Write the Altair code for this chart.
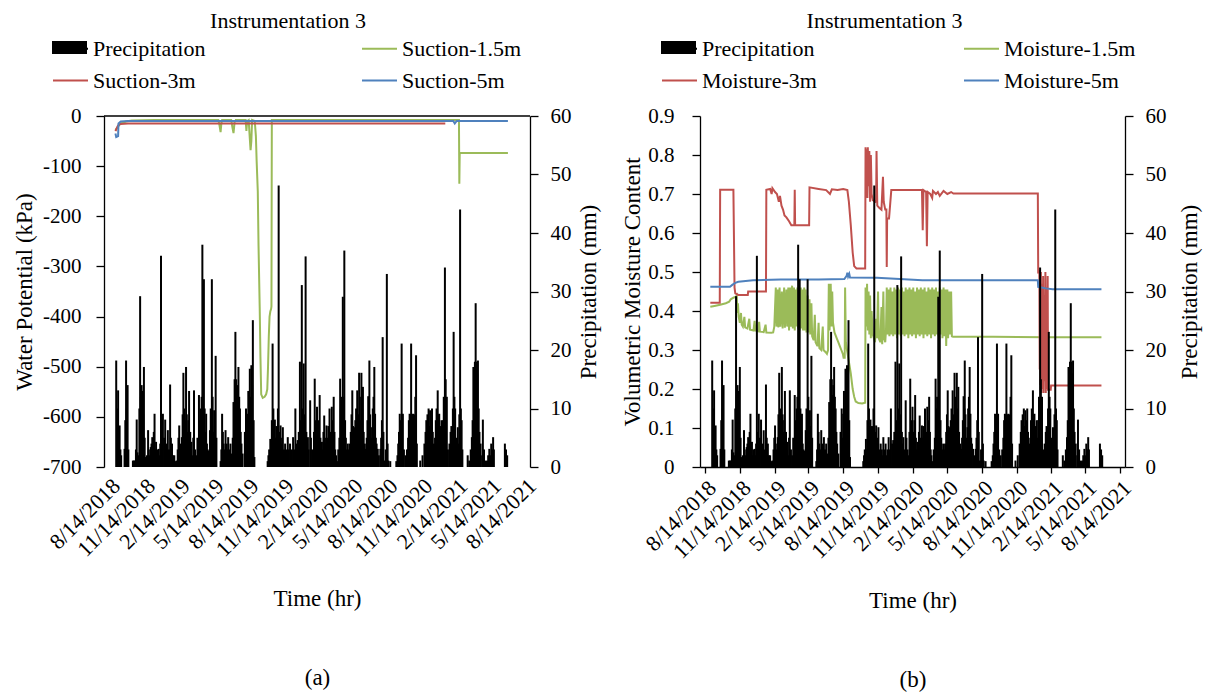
import altair as alt
import pandas as pd

BASE = "2018-08-14"
FONT = "Liberation Serif"
GREEN = "#9BBB59"
RED = "#C0504D"
BLUE = "#4F81BD"

# ---- precipitation (day offset from 8/14/2018, mm) ----
PRECIP_Y1 = [[19,18.2],[22,10],[24,13.1],[26,4],[28,7.1],[30,3],[32,2],[41,3.1],[43,8],[45,18.2],[47,10],[49,14],[51,3],
    [63,1.1],[66,1.1],[69,1.1],[71,3],[73,8.1],[75,2.5],[78,2],[80,10],[82,29.2],[84,12],[86,14],[88,13],[90,9],[92,17.1],
    [94,5],[96,1.7],[100,2],[103,6.3],[105,3],[107,2],[110,3.4],[112,4],[114,5.1],[116,3],[118,6],[120,9.1],[122,3],
    [124,4.3],[126,2],[128,3],[131,3.1],[133,2],[135,4],[137,36.1],[139,6],[142,9.1],[145,5],[148,8.1],[151,4],[155,6.3],
    [158,3],[161,14.1],[163,5],[166,4],[169,2],[172,2],[175,1],[178,1.1],[181,3],[183,5],[185,7.1],[187,4],[190,3],
    [192,5.1],[194,9],[196,16.1],[198,10],[200,8],[203,17.1],[205,9],[207,6],[209,8],[211,13],[214,6],[217,4.3],[220,2],
    [222,5],[224,13.1],[227,3],[230,2],[233,5],[237,12.3],[240,8],[242,10],[244,12],[246,38],[248,20],[250,32.1],[252,10],
    [254,6],[256,9.1],[258,4],[260,3],[263,2.8],[266,6.3],[268,10],[271,32.1],[273,12],[275,6],[277,9.7],[279,7],[281,19],
    [283,5],[294,1],[296,3],[298,9.1],[300,6],[302,4],[304,3],[307,6.3],[310,4],[312,3],[314,5.1],[317,3],[320,4],[322,2],
    [324,2.3],[326,5],[328,11.1],[330,8],[331,15],[333,23.1],[335,15],[337,12.3],[339,14],[341,17.1],[343,12],[345,10],
    [347,6],[349,4],[352,2.3]]
PRECIP_Y2 = [[358,6],[361,10],[363,5],[365,9.1],[367,13],[369,10],[371,16.8],[373,12],[375,17.4],[377,14],[379,25.1],
    [381,8],[383,1.7],[418,1],[420,2],[422,3],[425,4.8],[427,3],[429,8],[431,21.1],[433,10],[435,7],[437,8.1],[439,5],
    [441,7],[443,6.3],[445,10],[447,48.1],[449,6],[452,7.1],[454,4],[456,5],[458,6.8],[461,3],[464,4],[467,3],[469,2],
    [471,5.1],[474,3],[477,4],[480,2],[482,3],[485,5.1],[488,3],[491,10],[494,4],[497,4.6],[500,6],[503,18],[505,8],
    [508,31.1],[510,10],[513,17.7],[515,9],[518,36],[520,6],[522,4],[524,5.1],[526,3],[530,11.4],[532,5],[535,3],[538,2],
    [540,6],[542,15.1],[544,8],[546,5],[548,10.3],[551,6],[553,8],[555,12.3],[557,5],[559,3],[561,4.3],[563,3],[565,6],
    [567,8.8],[569,5],[571,4],[573,7.1],[576,5],[578,7],[581,10],[584,6],[587,10.3],[589,8],[592,12],[594,6],[596,3],
    [598,2],[601,1],[604,3],[607,5],[609,15.1],[611,10],[613,12],[616,29.1],[618,12],[620,37],[622,8],[624,5],[627,3],
    [629,4],[632,3],[634,4],[637,6],[639,9],[641,13.1],[643,7],[645,5],[647,6.8],[649,8],[651,10],[654,13.1],[656,9],
    [659,16.1],[661,12],[663,8],[665,16.1],[667,10],[669,13.7],[671,6],[674,4],[676,3.1],[679,5],[681,8],[683,12.1],
    [685,10],[686,18.2],[688,9],[690,5],[693,6.8],[695,10],[697,12],[699,17.1],[701,9.1],[703,5],[705,4],[708,3.1],
    [711,2],[715,3.1],[717,5],[719,8],[721,22.2],[723,6],[726,1.1],[729,3],[732,33],[734,4],[736,1.1]]
PRECIP_Y3 = [[741,1],[757,1],[760,2],[762,4],[764,6],[766,9.1],[769,8],[771,21.1],[773,9],[774,9.1],[777,3],[781,2],
    [785,3],[788,5],[790,8],[792,9.1],[794,9],[796,21.1],[798,9],[801,9.1],[803,8],[805,9],[807,12],[809,19.1],[811,4],
    [820,1.1],[826,2],[831,4],[834,6],[836,8],[839,9],[842,10],[844,7],[846,9.7],[848,8],[851,10],[853,6],[856,4],[859,5],
    [861,8],[863,10],[866,13.1],[868,9],[870,9.1],[872,7],[876,8],[878,5],[880,8],[882,12],[885,34.1],[887,15],[890,12],
    [893,3],[897,4],[900,6],[902,7],[904,6.8],[906,10],[908,23.1],[910,12],[912,10],[915,5],[919,6.8],[921,4],[923,9],
    [925,44],[927,10],[929,8],[931,3],[945,2],[949,1.1],[953,3],[956,5.1],[958,8],[960,17.1],[962,17],[964,18],[966,28],
    [968,18],[970,16],[972,18.2],[974,10],[976,6],[979,4],[983,2],[985,8.1],[988,3],[991,1.1],[994,1],[996,1.1],[999,2],
    [1002,3.1],[1004,2],[1007,4],[1009,3],[1012,5.1],[1014,3],[1043,4],[1046,3],[1049,2]]

# ---- panel (a): suction, kPa ----
SUCTION_15 = [[17,-28],[20,-25],[24,-21],[28,-17],[34,-14],[45,-11],[60,-9],[120,-8],[200,-8],[288,-8],[291,-18],
    [294,-32],[296,-15],[298,-8],[322,-8],[325,-22],[328,-34],[331,-12],[334,-8],[360,-8],[362,-30],[364,-10],[368,-8],
    [371,-45],[373,-68],[375,-50],[377,-8],[384,-10],[387,-40],[389,-90],[392,-150],[394,-260],[397,-380],[399,-480],
    [401,-555],[405,-562],[410,-560],[414,-555],[417,-545],[419,-500],[421,-440],[423,-400],[425,-390],[427,-385],
    [428,-380],[429,-8],[600,-8],[800,-8],[922,-8],[923,-135],[924,-74],[1051,-74]]
SUCTION_3 = [[17,-30],[20,-25],[24,-19],[30,-16],[50,-15],[300,-15],[600,-15],[886,-15]]
SUCTION_5 = [[17,-35],[19,-42],[24,-40],[25,-15],[31,-11],[50,-10],[907,-10],[911,-15],[916,-10],[1051,-10]]

# ---- panel (b): volumetric moisture content ----
MOISTURE_15 = [[14,0.411],[25,0.413],[40,0.416],[55,0.42],[64,0.424],[68,0.43],[75,0.434],[82,0.437],[84,0.44],
    [85,0.395],[87,0.42],[89,0.385],[92,0.37],[95,0.395],[97,0.365],[100,0.36],[104,0.385],[106,0.358],[112,0.355],
    [117,0.38],[119,0.352],[128,0.35],[131,0.375],[133,0.35],[140,0.348],[143,0.372],[145,0.347],[155,0.346],[160,0.365],
    [162,0.345],[175,0.344],[180,0.345],[183,0.36],[187,0.46],[189,0.36],[192,0.455],[194,0.358],[197,0.46],[199,0.36],
    [203,0.45],[205,0.355],[209,0.46],[211,0.357],[215,0.455],[217,0.36],[220,0.46],[222,0.35],[225,0.46],[227,0.36],
    [230,0.465],[232,0.355],[235,0.46],[237,0.35],[240,0.455],[242,0.36],[244,0.46],[246,0.355],[248,0.465],[250,0.35],
    [253,0.46],[255,0.355],[257,0.455],[259,0.35],[262,0.46],[264,0.35],[266,0.455],[268,0.345],[271,0.44],[273,0.345],
    [276,0.43],[278,0.34],[281,0.42],[283,0.335],[287,0.325],[290,0.39],[292,0.32],[297,0.31],[300,0.37],[302,0.305],
    [307,0.3],[311,0.36],[313,0.3],[318,0.295],[322,0.29],[325,0.3],[327,0.47],[329,0.35],[332,0.47],[334,0.36],
    [336,0.45],[338,0.37],[342,0.345],[348,0.33],[352,0.32],[356,0.31],[360,0.3],[364,0.29],[366,0.28],[369,0.28],
    [370,0.46],[372,0.32],[375,0.3],[380,0.27],[385,0.24],[390,0.2],[394,0.18],[398,0.168],[405,0.164],[415,0.163],
    [423,0.165],[424,0.46],[426,0.36],[428,0.47],[430,0.35],[432,0.45],[434,0.34],[436,0.44],[438,0.33],[440,0.4],
    [443,0.34],[446,0.33],[449,0.32],[452,0.38],[454,0.33],[457,0.45],[459,0.33],[463,0.32],[466,0.41],[468,0.315],
    [471,0.45],[473,0.33],[476,0.32],[478,0.35],[480,0.46],[482,0.34],[485,0.455],[487,0.335],[490,0.46],[492,0.34],
    [495,0.45],[497,0.335],[500,0.46],[502,0.34],[505,0.455],[507,0.33],[510,0.46],[512,0.34],[515,0.455],[517,0.335],
    [520,0.46],[522,0.34],[525,0.45],[527,0.335],[530,0.46],[532,0.34],[535,0.455],[537,0.33],[540,0.46],[542,0.34],
    [545,0.455],[547,0.335],[550,0.46],[552,0.34],[555,0.45],[557,0.33],[560,0.46],[562,0.34],[565,0.455],[567,0.335],
    [570,0.46],[572,0.34],[575,0.455],[577,0.33],[580,0.46],[582,0.34],[585,0.45],[587,0.335],[590,0.46],[592,0.34],
    [595,0.455],[597,0.33],[600,0.46],[602,0.34],[605,0.455],[607,0.335],[610,0.46],[612,0.34],[615,0.45],[617,0.335],
    [620,0.46],[622,0.34],[625,0.455],[627,0.33],[630,0.46],[632,0.335],[635,0.455],[637,0.31],[640,0.455],[642,0.33],
    [645,0.45],[647,0.34],[650,0.45],[652,0.335],[655,0.334],[760,0.334],[900,0.333],[1047,0.333]]
MOISTURE_3 = [[14,0.421],[39,0.421],[40,0.711],[75,0.711],[78,0.46],[80,0.445],[88,0.441],[113,0.441],[114,0.45],
    [161,0.45],[162,0.711],[172,0.713],[176,0.7],[178,0.715],[185,0.705],[190,0.7],[195,0.68],[198,0.695],[202,0.67],
    [206,0.66],[210,0.645],[215,0.64],[222,0.63],[228,0.62],[236,0.62],[237,0.711],[238,0.62],[275,0.62],[276,0.717],
    [300,0.713],[320,0.71],[330,0.7],[335,0.712],[350,0.71],[365,0.713],[376,0.71],[380,0.68],[385,0.62],[390,0.55],
    [394,0.515],[400,0.509],[423,0.509],[424,0.82],[426,0.7],[427,0.815],[429,0.69],[430,0.82],[432,0.72],[434,0.81],
    [436,0.68],[438,0.8],[440,0.7],[443,0.684],[450,0.68],[452,0.684],[453,0.81],[455,0.67],[460,0.665],[466,0.66],
    [470,0.744],[472,0.68],[476,0.66],[479,0.66],[480,0.513],[481,0.637],[486,0.637],[492,0.71],[573,0.71],[575,0.607],
    [577,0.71],[584,0.705],[586,0.566],[588,0.705],[595,0.7],[600,0.69],[602,0.708],[610,0.7],[615,0.705],[620,0.695],
    [630,0.708],[640,0.7],[650,0.705],[656,0.701],[879,0.701],[880,0.496],[883,0.505],[884,0.25],[885,0.48],[886,0.21],
    [887,0.5],[888,0.19],[890,0.47],[891,0.2],[893,0.49],[894,0.19],[896,0.44],[897,0.22],[899,0.5],[900,0.19],
    [902,0.46],[903,0.2],[905,0.49],[906,0.198],[913,0.198],[914,0.209],[1047,0.209]]
MOISTURE_5 = [[14,0.462],[66,0.462],[72,0.467],[80,0.472],[88,0.475],[127,0.479],[200,0.481],[300,0.481],[368,0.482],
    [374,0.49],[376,0.498],[378,0.488],[381,0.495],[383,0.486],[454,0.485],[574,0.479],[879,0.479],[880,0.462],
    [900,0.458],[918,0.456],[1047,0.456]]

X_TICKS = [(2018, 8, 14), (2018, 11, 14), (2019, 2, 14), (2019, 5, 14), (2019, 8, 14), (2019, 11, 14), (2020, 2, 14),
           (2020, 5, 14), (2020, 8, 14), (2020, 11, 14), (2021, 2, 14), (2021, 5, 14), (2021, 8, 14)]
KPA_TICKS = [-700, -600, -500, -400, -300, -200, -100, 0]
MM_TICKS = [0, 10, 20, 30, 40, 50, 60]
VMC_TICKS = [0, 0.1, 0.2, 0.3, 0.4, 0.5, 0.6, 0.7, 0.8, 0.9]


def to_df(pairs, name, col):
    days = [p[0] for p in pairs]
    vals = [p[1] for p in pairs]
    dates = pd.Timestamp(BASE) + pd.to_timedelta(days, unit="D")
    return pd.DataFrame({"date": dates, col: vals, "series": name})


def dt(t):
    return alt.DateTime(year=t[0], month=t[1], date=t[2])


precip_df = to_df(PRECIP_Y1 + PRECIP_Y2 + PRECIP_Y3, "Precipitation", "mm")


def x_enc(show_line, title):
    return alt.X(
        "date:T",
        scale=alt.Scale(domain=[dt(X_TICKS[0]), dt(X_TICKS[-1])], nice=False),
        axis=alt.Axis(
            values=[dt(t) for t in X_TICKS], format="%-m/%-d/%Y", labelAngle=315,
            labelFontSize=22, labelOverlap=False, labelFlush=False,
            domain=show_line, ticks=show_line, tickSize=6, tickWidth=1.3, domainWidth=1.3,
            labelPadding=4 if show_line else 8,
            title=title, titleFontSize=23, titleLineHeight=79, titlePadding=27,
        ),
    )


def panel(names, line_pairs, col, y_title, y_domain, y_ticks, y_label_expr, show_bottom, x_title,
          legend_x, col_pad, title_dx, lpad, tpad, rtpad, top_line, width):
    x = x_enc(show_bottom, x_title)
    yl = alt.Y(
        f"{col}:Q",
        scale=alt.Scale(domain=y_domain, nice=False, zero=False),
        axis=alt.Axis(orient="left", values=y_ticks, labelExpr=y_label_expr, title=y_title,
                      labelFontSize=21, titleFontSize=23, tickSize=8, tickWidth=1.3, domainWidth=1.3,
                      labelPadding=lpad, titlePadding=tpad),
    )
    # legend entries fill column by column: order so rows read Precip | 1.5m / 3m | 5m
    legend_order = ["Precipitation", names[1], names[0], names[2]]
    color = alt.Color(
        "series:N",
        scale=alt.Scale(domain=legend_order, range=["black", RED, GREEN, BLUE]),
        legend=alt.Legend(orient="none", legendX=legend_x, legendY=-86, columns=2, columnPadding=col_pad,
                          rowPadding=2, symbolType="stroke", symbolSize=1225, symbolStrokeWidth=2,
                          labelFontSize=22, labelOffset=4, labelLimit=0, title=None, padding=0),
    )
    layers = []
    if top_line:
        layers.append(alt.Chart(pd.DataFrame({col: [0]})).mark_rule(color="black", strokeWidth=1.3).encode(y=yl))
    for pairs, name in zip(line_pairs, names):
        layers.append(
            alt.Chart(to_df(pairs, name, col)).mark_line(strokeWidth=2).encode(x=x, y=yl, color=color)
        )
    lines = alt.layer(*layers)

    bars = alt.Chart(precip_df).mark_bar(size=2).encode(
        x=x,
        y=alt.Y("mm:Q", scale=alt.Scale(domain=[0, 60], nice=False),
                axis=alt.Axis(orient="right", values=MM_TICKS, title="Precipitation (mm)", titleAngle=270,
                              titleBaseline="top", labelFontSize=21, titleFontSize=23, tickSize=8,
                              tickWidth=1.3, domainWidth=1.3, labelPadding=12, titlePadding=rtpad)),
        fill=alt.Fill("series:N", scale=alt.Scale(domain=["Precipitation"], range=["black"]),
                      legend=alt.Legend(orient="none", legendX=legend_x, legendY=-86,
                                        symbolType="M-1,-0.37H1V0.37H-1Z", symbolSize=1225,
                                        symbolStrokeWidth=0, labelExpr="''", title=None, padding=0)),
    )
    return alt.layer(lines, bars).resolve_scale(y="independent").properties(
        width=width, height=351,
        title=alt.TitleParams("Instrumentation 3", anchor="middle", frame="group", dx=title_dx, offset=-3,
                              fontSize=22, font=FONT, fontWeight="normal"),
    )


pa = panel(["Suction-1.5m", "Suction-3m", "Suction-5m"], [SUCTION_15, SUCTION_3, SUCTION_5], "kpa",
           "Water Potential (kPa)", [-700, 0], KPA_TICKS, "'' + datum.value", False,
           ["Time (hr)", "(a)"], -52, 152, -29, 15, 6, 6, True, 426)
pb = panel(["Moisture-1.5m", "Moisture-3m", "Moisture-5m"], [MOISTURE_15, MOISTURE_3, MOISTURE_5], "vmc",
           "Volumetric Moisture Content", [0, 0.9], VMC_TICKS, "format(datum.value, '~g')", True,
           ["Time (hr)", "(b)"], -39, 143, -28, 18, 3, 12, False, 425)

chart = alt.hconcat(pa, pb, spacing=21).resolve_scale(
    color="independent", fill="independent"
).resolve_legend(color="independent", fill="independent").properties(
    padding={"left": 5, "top": 2, "right": 5, "bottom": 5}
).configure_view(stroke=None).configure_axis(
    grid=False, labelFont=FONT, titleFont=FONT, labelColor="black", titleColor="black",
    domainColor="black", tickColor="black", titleFontWeight="normal"
).configure_legend(labelFont=FONT, labelColor="black")

chart.save("out.html", embed_options={"renderer": "svg", "actions": False})
